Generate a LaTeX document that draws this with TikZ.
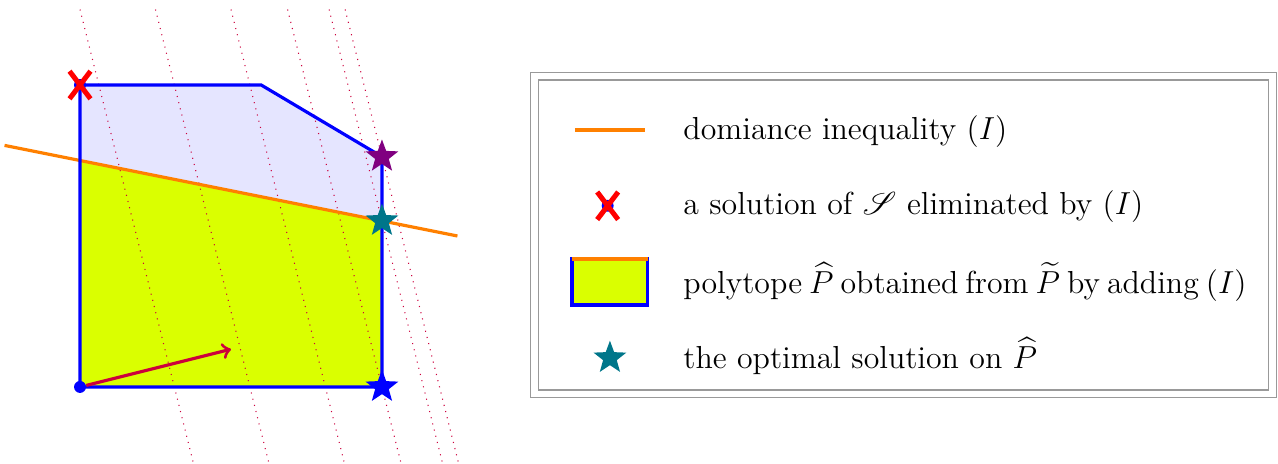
\documentclass[tikz,border=0pt]{standalone}
\usepackage{amssymb,amsmath,amsfonts,mathrsfs}
\usetikzlibrary{shapes.geometric,shapes.misc}
\definecolor{limefill}{RGB}{218,255,0}
\definecolor{objcol}{RGB}{204,0,60}
\definecolor{optteal}{RGB}{0,118,138}
\definecolor{optpurple}{RGB}{128,0,128}

\begin{document}
\begin{tikzpicture}
\tikzstyle{vertex}=[circle,fill=blue,minimum size=4.5pt,inner sep=0pt]
\tikzstyle{optstar}=[star,star points=5,star point ratio=2.4,minimum size=13pt,inner sep=0pt]
\tikzstyle{cutmark}=[cross out,draw=red,line width=1.9pt,minimum width=6pt,minimum height=8.5pt,inner sep=0pt]
\tikzstyle{level}=[draw=objcol,dotted]
\tikzstyle{cut}=[draw=orange,line width=1.2pt]
\tikzstyle{facet}=[draw=blue,line width=1.2pt]
\tikzstyle{legtext}=[anchor=base west,inner sep=0pt,font=\large]
\useasboundingbox (-1.06,-1.02) rectangle (15.87,5.126);
    % polytope
    \coordinate (o) at (0,0);
    \coordinate (a) at (0,4);
    \coordinate (b) at (2.4,4);
    \coordinate (c) at (4,3.05);
    \coordinate (d) at (4,0);
    \coordinate (e) at (0,3);
    \coordinate (f) at (4,2.2);
    \coordinate (g) at (2,0.5);
    \fill[blue!10] (o) -- (a) -- (b) -- (c) -- (d) -- cycle;
    \fill[limefill] (o) -- (e) -- (f) -- (d) -- cycle;
    % level lines of the objective
    \foreach \c in {5,9,13,16,18.2,19.05}
        \draw[level] ({(\c-5)/4},5) -- ({(\c+1)/4},-1);
    % dominance inequality
    \coordinate (l1) at (-1,3.2);
    \coordinate (l2) at (5,2);
    \path (l1) edge [cut] (l2);
    \draw[facet] (o) -- (a) -- (b) -- (c) -- (d) -- cycle;
    \node[vertex] (0) at (o) {};
    \node[vertex] (1) at (a) {};
    \node[cutmark] (x1) at (a) {};
    \path (0) edge [draw=objcol,line width=1.2pt,->] (g);
    \node[optstar,fill=optpurple] (s1) at (c) {};
    \node[optstar,fill=optteal] (s2) at (f) {};
    \node[optstar,fill=blue] (s3) at (d) {};
    % legend
    \node[draw=gray!80,double,double distance=2.6pt,line width=0.4pt,minimum width=9.775cm,minimum height=4.212cm] (leg) at (10.914,2.013) {};
    \coordinate (k1) at (6.556,3.404);
    \coordinate (k2) at (7.483,3.404);
    \path (k1) edge [cut] (k2);
    \node[legtext] (t1) at (7.987,3.281) {domiance inequality $(I)$};
    \node[vertex] (2) at (6.99,2.40) {};
    \node[cutmark] (x2) at (2) {};
    \node[legtext] (t2) at (7.987,2.291) {a solution of $\mathscr{S}$ eliminated by $(I)$};
    \draw[facet,fill=limefill] (6.517,1.086) rectangle (7.523,1.695);
    \draw[cut] (6.517,1.695) -- (7.523,1.695);
    \node[legtext] (t3) at (7.987,1.232) {\spaceskip=2.65pt polytope $\widehat{P}$ obtained from $\widetilde{P}$ by adding $(I)$};
    \node[optstar,fill=optteal] (s4) at (7.02,0.384) {};
    \node[legtext] (t4) at (7.987,0.238) {the optimal solution on $\widehat{P}$};
\end{tikzpicture}
\end{document}
